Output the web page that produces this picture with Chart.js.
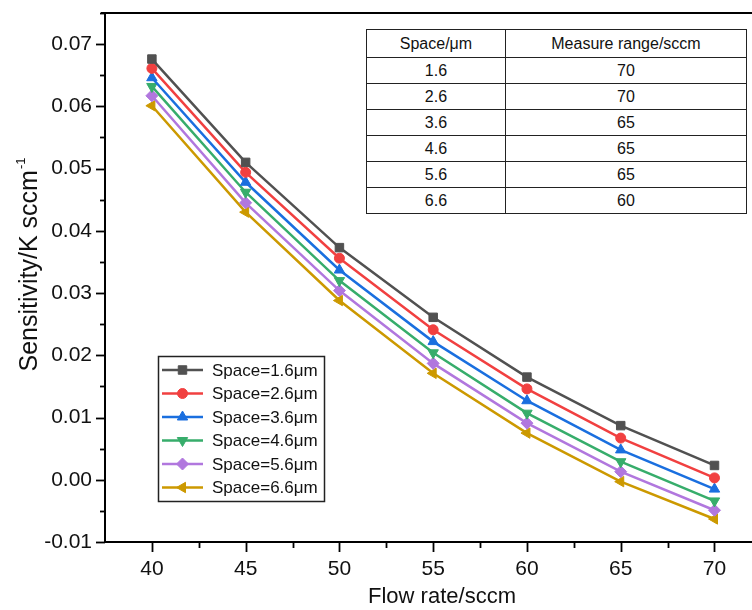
<!DOCTYPE html>
<html>
<head>
<meta charset="utf-8">
<script src="https://cdn.jsdelivr.net/npm/chart.js"></script>
<style>
  body { margin: 0; background: #fff; }
  #wrap { position: relative; width: 752px; height: 610px; }
  #range-table {
    position: absolute; left: 366px; top: 29px; width: 381px;
    border-collapse: collapse; background: #fff;
    font-family: "Liberation Sans", Arial, sans-serif; font-size: 16px; color: #111;
  }
  #range-table td, #range-table th {
    border: 1px solid #222; text-align: center; padding: 0; height: 25px; font-weight: normal;
  }
  #range-table th { height: 27px; }
</style>
</head>
<body>
<div id="wrap">
  <canvas id="chart" width="752" height="610"></canvas>
  <table id="range-table"><thead></thead><tbody></tbody></table>
</div>
<script>
const flowRate = [40, 45, 50, 55, 60, 65, 70];
const spaceLabels = ['Space=1.6μm', 'Space=2.6μm', 'Space=3.6μm', 'Space=4.6μm', 'Space=5.6μm', 'Space=6.6μm'];
const space16 = [0.0676, 0.0510, 0.0373, 0.0261, 0.0165, 0.0087, 0.0023];
const space26 = [0.0661, 0.0494, 0.0356, 0.0241, 0.0146, 0.0067, 0.0003];
const space36 = [0.0646, 0.0478, 0.0337, 0.0222, 0.0127, 0.0048, -0.0015];
const space46 = [0.0632, 0.0462, 0.0320, 0.0204, 0.0107, 0.0029, -0.0034];
const space56 = [0.0617, 0.0445, 0.0304, 0.0187, 0.0091, 0.0013, -0.0049];
const space66 = [0.0601, 0.0430, 0.0288, 0.0171, 0.0075, -0.0003, -0.0063];

const tableHeader = ['Space/μm', 'Measure range/sccm'];
const tableSpace = ['1.6', '2.6', '3.6', '4.6', '5.6', '6.6'];
const tableRange = ['70', '70', '65', '65', '65', '60'];

const colors = ['#515151', '#F14040', '#1A6FDF', '#37AD6B', '#B177DE', '#CC9900'];
const styles = ['rect', 'circle', 'triangle', 'triangle', 'rectRot', 'triangle'];
const rotations = [0, 0, 0, 180, 0, -90];
const radii = [6, 5, 6, 6, 6, 6];
const series = [space16, space26, space36, space46, space56, space66];

// table
const thead = document.querySelector('#range-table thead');
const tbody = document.querySelector('#range-table tbody');
const hr = thead.insertRow();
tableHeader.forEach((h, i) => {
  const th = document.createElement('th');
  th.textContent = h;
  th.style.width = i === 0 ? '139px' : '242px';
  hr.appendChild(th);
});
tableSpace.forEach((s, i) => {
  const row = tbody.insertRow();
  row.insertCell().textContent = s;
  row.insertCell().textContent = tableRange[i];
});

const axisFont = "'Liberation Sans', Arial, sans-serif";

const datasets = series.map((vals, i) => ({
  label: spaceLabels[i],
  data: flowRate.map((f, j) => ({ x: f, y: vals[j] })),
  borderColor: colors[i],
  backgroundColor: colors[i],
  borderWidth: 2.5,
  pointStyle: styles[i],
  pointRotation: rotations[i],
  pointRadius: radii[i],
  pointBorderWidth: 1,
  tension: 0
}));

const extras = {
  id: 'extras',
  afterDraw(chart) {
    const { ctx, chartArea: a, scales: { x, y } } = chart;
    ctx.save();
    ctx.strokeStyle = '#000';
    ctx.lineWidth = 2;
    // top frame
    ctx.beginPath();
    ctx.moveTo(a.left - 4, a.top);
    ctx.lineTo(a.right, a.top);
    ctx.stroke();
    ctx.lineWidth = 1.8;
    // x ticks
    for (let v = 40; v <= 70; v += 2.5) {
      const px = Math.round(x.getPixelForValue(v)) + 0.5;
      const len = v % 5 === 0 ? 10 : 6;
      ctx.beginPath();
      ctx.moveTo(px, a.bottom);
      ctx.lineTo(px, a.bottom + len);
      ctx.stroke();
    }
    // y ticks
    for (let k = -2; k <= 15; k++) {
      const py = Math.round(y.getPixelForValue(k * 0.005)) + 0.5;
      const len = k % 2 === 0 ? 9 : 5;
      ctx.beginPath();
      ctx.moveTo(a.left, py);
      ctx.lineTo(a.left - len, py);
      ctx.stroke();
    }

    // x title
    ctx.fillStyle = '#111';
    ctx.font = "22px 'Liberation Sans', Arial, sans-serif";
    ctx.textAlign = 'center';
    ctx.textBaseline = 'middle';
    ctx.fillText('Flow rate/sccm', 442, 597);

    // y title with superscript
    ctx.save();
    ctx.translate(29, 265);
    ctx.rotate(-Math.PI / 2);
    ctx.textBaseline = 'middle';
    ctx.textAlign = 'left';
    const main = 'Sensitivity/K sccm';
    const sup = '-1';
    ctx.font = "25px 'Liberation Sans', Arial, sans-serif";
    const mw = ctx.measureText(main).width;
    ctx.font = "13px 'Liberation Sans', Arial, sans-serif";
    const sw = ctx.measureText(sup).width;
    const start = -(mw + sw) / 2;
    ctx.font = "25px 'Liberation Sans', Arial, sans-serif";
    ctx.fillText(main, start, 1);
    ctx.font = "13px 'Liberation Sans', Arial, sans-serif";
    ctx.fillText(sup, start + mw + 1, -8);
    ctx.restore();

    // legend
    ctx.lineWidth = 1.5;
    ctx.strokeStyle = '#222';
    ctx.strokeRect(158.5, 356.5, 166, 145);
    ctx.font = "17px 'Liberation Sans', Arial, sans-serif";
    ctx.textBaseline = 'middle';
    ctx.textAlign = 'left';
    chart.data.datasets.forEach((ds, i) => {
      const ly = 370 + i * 23.5;
      ctx.strokeStyle = ds.borderColor;
      ctx.fillStyle = ds.backgroundColor;
      ctx.lineWidth = 2.5;
      ctx.beginPath();
      ctx.moveTo(162, ly);
      ctx.lineTo(203, ly);
      ctx.stroke();
      ctx.lineWidth = 1;
      Chart.helpers.drawPoint(ctx, {
        pointStyle: ds.pointStyle, rotation: ds.pointRotation,
        radius: ds.pointRadius, borderWidth: 1
      }, 182.5, ly);
      ctx.fillStyle = '#111';
      ctx.fillText(ds.label, 212, ly + 1);
    });
    ctx.restore();
  }
};

new Chart(document.getElementById('chart'), {
  type: 'line',
  data: { datasets },
  options: {
    responsive: false,
    animation: false,
    devicePixelRatio: 1,
    layout: { autoPadding: false, padding: { top: 13, right: 0, left: 0, bottom: 0 } },
    plugins: { legend: { display: false }, tooltip: { enabled: false } },
    scales: {
      x: {
        type: 'linear',
        min: 37.5,
        max: 72,
        afterFit: s => { s.height = 68; s.paddingLeft = 0; s.paddingRight = 0; },
        grid: { display: false, drawTicks: false },
        border: { display: true, color: '#000', width: 2 },
        ticks: {
          stepSize: 5, includeBounds: false, padding: 15, color: '#111',
          font: { family: axisFont, size: 21 }
        },
        title: { display: false }
      },
      y: {
        min: -0.01,
        max: 0.075,
        afterFit: s => { s.width = 105; s.paddingTop = 0; s.paddingBottom = 0; },
        grid: { display: false, drawTicks: false },
        border: { display: true, color: '#000', width: 2 },
        ticks: {
          stepSize: 0.01, includeBounds: false, padding: 13, color: '#111',
          font: { family: axisFont, size: 21 },
          callback: v => (Math.abs(v) < 1e-9 ? 0 : v).toFixed(2)
        },
        title: { display: false }
      }
    }
  },
  plugins: [extras]
});
</script>
</body>
</html>
